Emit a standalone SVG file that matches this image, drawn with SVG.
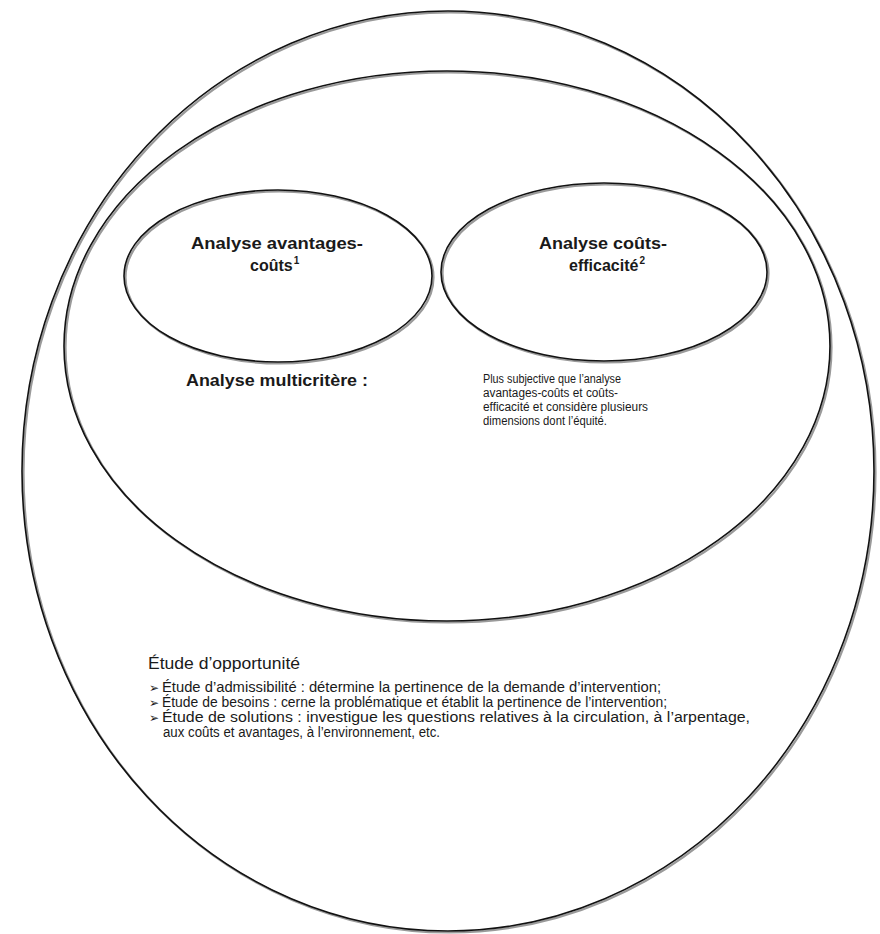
<svg xmlns="http://www.w3.org/2000/svg" width="880" height="934" viewBox="0 0 880 934">
<style>
.sh{fill:none;stroke:#9a9a9a;stroke-width:2.2}
.ln{fill:none;stroke:#111;stroke-width:1.6}
.b{font-family:"Liberation Sans",Arial,sans-serif;font-weight:bold;font-size:16px;fill:#1a1a1a}
.n{font-family:"Liberation Sans",Arial,sans-serif;font-size:14px;fill:#1a1a1a}
.p{font-family:"Liberation Sans",Arial,sans-serif;font-size:12px;fill:#1a1a1a}
.t{font-family:"Liberation Sans",Arial,sans-serif;font-size:16px;fill:#1a1a1a}
.bl{font-family:"DejaVu Sans",sans-serif;font-size:12px;fill:#1a1a1a}
.sup{font-size:10px}
</style>
<rect width="880" height="934" fill="#fff"/>
<g id="etude-opportunite">
<ellipse class="sh" cx="449.5" cy="472.5" rx="426" ry="460"/>
<ellipse class="ln" cx="448" cy="471" rx="426" ry="460"/>
<text class="t" x="148" y="669" textLength="152" lengthAdjust="spacingAndGlyphs">Étude d’opportunité</text>
<text class="bl" x="149" y="692">➢</text>
<text class="n" x="162" y="692" textLength="499" lengthAdjust="spacingAndGlyphs">Étude d’admissibilité : détermine la pertinence de la demande d’intervention;</text>
<text class="bl" x="149" y="707">➢</text>
<text class="n" x="162" y="707" textLength="505" lengthAdjust="spacingAndGlyphs">Étude de besoins : cerne la problématique et établit la pertinence de l’intervention;</text>
<text class="bl" x="149" y="722">➢</text>
<text class="n" x="162" y="722" textLength="588" lengthAdjust="spacingAndGlyphs">Étude de solutions : investigue les questions relatives à la circulation, à l’arpentage,</text>
<text class="n" x="163" y="737" textLength="277" lengthAdjust="spacingAndGlyphs">aux coûts et avantages, à l’environnement, etc.</text>
</g>
<g id="analyse-multicritere">
<ellipse class="sh" cx="448.5" cy="347.5" rx="383" ry="275"/>
<ellipse class="ln" cx="447" cy="346" rx="383" ry="275"/>
<text class="b" x="186" y="386" textLength="182" lengthAdjust="spacingAndGlyphs">Analyse multicritère :</text>
<text class="p" x="483" y="383" textLength="138" lengthAdjust="spacingAndGlyphs">Plus subjective que l’analyse</text>
<text class="p" x="483" y="397" textLength="135" lengthAdjust="spacingAndGlyphs">avantages-coûts et coûts-</text>
<text class="p" x="483" y="411" textLength="165" lengthAdjust="spacingAndGlyphs">efficacité et considère plusieurs</text>
<text class="p" x="483" y="425" textLength="124" lengthAdjust="spacingAndGlyphs">dimensions dont l’équité.</text>
</g>
<g id="analyse-avantages-couts">
<ellipse class="sh" cx="279.5" cy="277.5" rx="154" ry="86"/>
<ellipse class="ln" cx="278" cy="276" rx="154" ry="86"/>
<text class="b" x="277" y="249" text-anchor="middle" textLength="172" lengthAdjust="spacingAndGlyphs">Analyse avantages-</text>
<text class="b" x="250" y="271">coûts<tspan class="sup" dx="1" dy="-7">1</tspan></text>
</g>
<g id="analyse-couts-efficacite">
<ellipse class="sh" cx="605.5" cy="273.5" rx="163" ry="89"/>
<ellipse class="ln" cx="604" cy="272" rx="163" ry="89"/>
<text class="b" x="603" y="249" text-anchor="middle" textLength="128" lengthAdjust="spacingAndGlyphs">Analyse coûts-</text>
<text class="b" x="569" y="271">efficacité<tspan class="sup" dx="1" dy="-7">2</tspan></text>
</g>
<g id="connectors"/>
</svg>
